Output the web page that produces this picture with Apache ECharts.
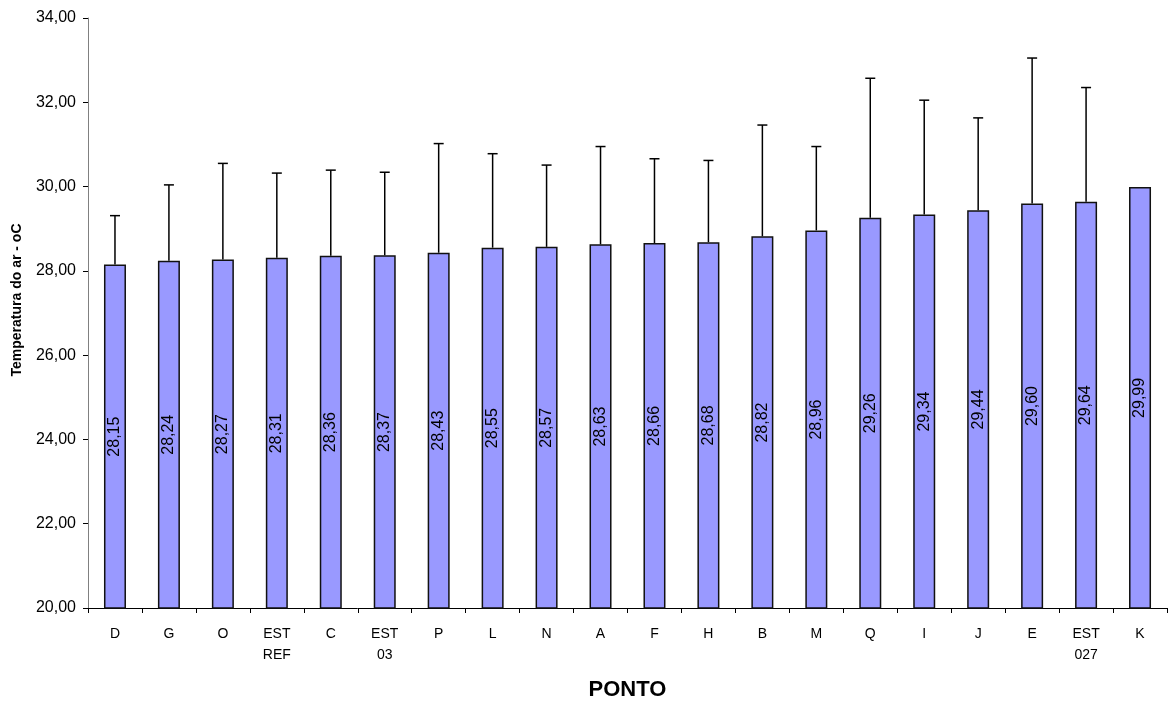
<!DOCTYPE html>
<html><head><meta charset="utf-8">
<script src="https://cdn.jsdelivr.net/npm/echarts@6/dist/echarts.min.js"></script>
<style>html,body{margin:0;padding:0;background:#fff}#c{width:1169px;height:706px}</style>
</head><body><div id="c"></div>
<script>
var categories = ['D','G','O','EST\nREF','C','EST\n03','P','L','N','A','F','H','B','M','Q','I','J','E','EST\n027','K'];
var means = [28.15,28.24,28.27,28.31,28.36,28.37,28.43,28.55,28.57,28.63,28.66,28.68,28.82,28.96,29.26,29.34,29.44,29.60,29.64,29.99];
var upper = [29.31,30.04,30.55,30.32,30.39,30.34,31.02,30.78,30.51,30.95,30.66,30.62,31.46,30.95,32.57,32.05,31.63,33.05,32.35,null];
var yTicks = {min:20, max:34, interval:2};

var errData = [];
for (var i=0;i<means.length;i++){ if(upper[i]!=null) errData.push([i, means[i], upper[i]]); }
function fmt(v){ return Number(v).toFixed(2).replace('.', ','); }

var chart = echarts.init(document.getElementById('c'));
chart.setOption({
  animation:false,
  textStyle:{fontFamily:'"Liberation Sans", Arial, sans-serif'},
  grid:{left:88, right:2, top:18, bottom:92},
  xAxis:{
    type:'category', data:categories,
    axisLine:{lineStyle:{color:'#000', width:1}},
    axisTick:{show:true, length:5, alignWithLabel:false, lineStyle:{color:'#000'}},
    axisLabel:{color:'#000', fontSize:14, margin:16, lineHeight:21, interval:0},
    name:'PONTO', nameLocation:'middle', nameGap:71,
    nameTextStyle:{color:'#000', fontSize:22, fontWeight:'bold'}
  },
  yAxis:{
    type:'value', min:yTicks.min, max:yTicks.max, interval:yTicks.interval,
    axisLine:{show:true, lineStyle:{color:'#808080', width:1}},
    axisTick:{show:true, length:5, lineStyle:{color:'#000'}},
    splitLine:{show:false},
    axisLabel:{color:'#000', fontSize:16, margin:12, formatter:fmt},
    name:'Temperatura do ar - oC', nameLocation:'middle', nameGap:64,
    nameTextStyle:{color:'#000', fontSize:14, fontWeight:'bold', padding:[0,0,0,26]}
  },
  series:[{
    type:'bar', data:means, barWidth:22,
    itemStyle:{color:'#9999FF', borderColor:'#111', borderWidth:1.5},
    label:{show:true, position:'inside', rotate:90, color:'#000', fontSize:16, formatter:function(p){return fmt(p.value);}},
    z:2
  },{
    type:'custom', data:errData, z:3,
    encode:{x:0, y:[1,2]},
    renderItem:function(params, api){
      var x = api.value(0);
      var p0 = api.coord([x, api.value(1)]);
      var p1 = api.coord([x, api.value(2)]);
      var hw = 5;
      return {type:'group', children:[
        {type:'line', shape:{x1:p0[0], y1:p0[1], x2:p1[0], y2:p1[1]}, style:{stroke:'#000', lineWidth:1.5}},
        {type:'line', shape:{x1:p1[0]-hw, y1:p1[1], x2:p1[0]+hw, y2:p1[1]}, style:{stroke:'#000', lineWidth:1.5}}
      ]};
    }
  }]
});
</script></body></html>
